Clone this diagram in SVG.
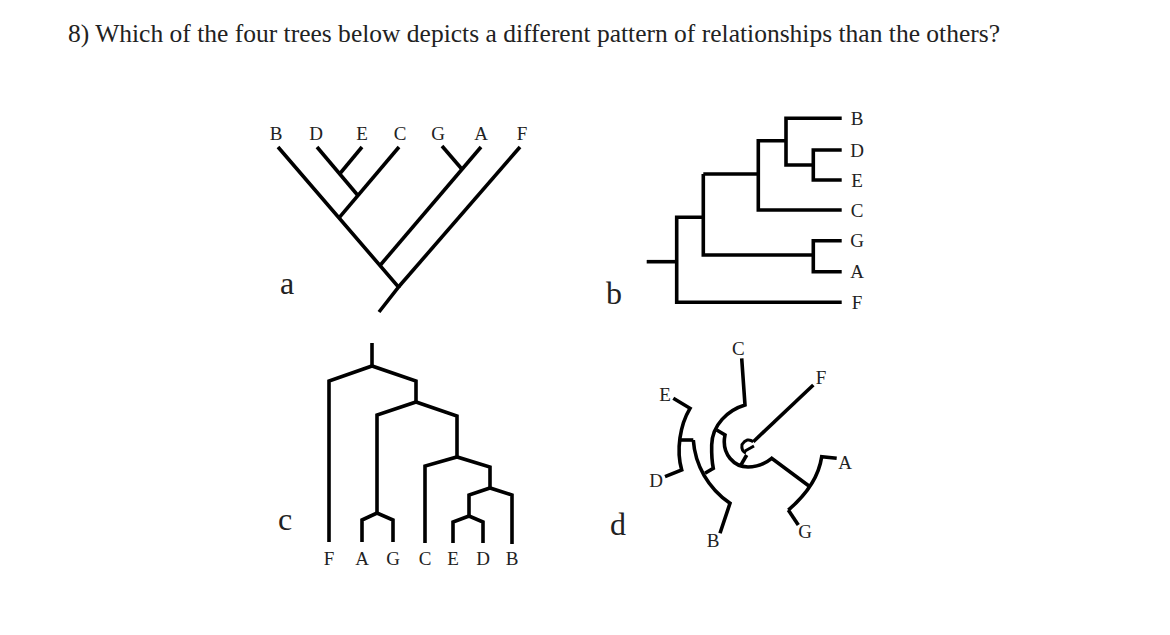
<svg xmlns="http://www.w3.org/2000/svg" width="1170" height="635" viewBox="0 0 1170 635">
<style>
.t{font-family:"Liberation Serif","Times New Roman",serif;fill:#222}
.lab{font-size:19px;text-anchor:middle}
.big{font-size:32px;text-anchor:middle}
.br{fill:none;stroke:#000;stroke-width:3.6;stroke-linejoin:miter}
</style>
<rect width="1170" height="635" fill="#fff"/>
<text class="t" x="68" y="42" font-size="25.5" textLength="932" lengthAdjust="spacingAndGlyphs">8) Which of the four trees below depicts a different pattern of relationships than the others?</text>

<g id="tree-a">
<g class="br">
<path d="M278,147 L398.5,287 L379,312"/>
<path d="M520,147 L398.5,287"/>
<path d="M481,147 L380,265.5"/>
<path d="M442,146 L462,169.2"/>
<path d="M399,147 L339,217.9"/>
<path d="M317,147 L357.5,195"/>
<path d="M362,147 L340,173.5"/>
</g>
<text class="t lab" x="276" y="140">B</text>
<text class="t lab" x="316" y="140">D</text>
<text class="t lab" x="362" y="140">E</text>
<text class="t lab" x="400" y="140">C</text>
<text class="t lab" x="438" y="140">G</text>
<text class="t lab" x="481" y="140">A</text>
<text class="t lab" x="522" y="140">F</text>
<text class="t big" x="287" y="294">a</text>
</g>

<g id="tree-b">
<g class="br" stroke-width="4">
<path d="M646.7,261.7 H676.7"/>
<path d="M841.7,302.3 H676.7 V217.3 H703.3"/>
<path d="M703.3,174 V255 H813.3"/>
<path d="M841.7,240.7 H813.3 V271.7 H841.7"/>
<path d="M703.3,174 H758.3"/>
<path d="M786,140.7 H758.3 V210 H841.7"/>
<path d="M841.7,118.3 H786 V165 H813.3"/>
<path d="M841.7,150 H813.3 V180 H841.7"/>
</g>
<text class="t lab" x="857" y="125">B</text>
<text class="t lab" x="857" y="157">D</text>
<text class="t lab" x="857" y="187">E</text>
<text class="t lab" x="857" y="217">C</text>
<text class="t lab" x="857" y="247">G</text>
<text class="t lab" x="857" y="278">A</text>
<text class="t lab" x="857" y="309">F</text>
<text class="t big" x="614" y="304">b</text>
</g>

<g id="tree-c">
<g class="br" stroke-width="4">
<path d="M372,343 V366"/>
<path d="M416,402 V381 L372,366 L329,381 V542"/>
<path d="M457,457 V416 L416,402 L377,415 V513"/>
<path d="M362,542 V520 L377,513 L393,520 V542"/>
<path d="M490,488 V467 L457,457 L425,466 V543"/>
<path d="M469,516 V495 L490,488 L512,495 V544"/>
<path d="M453,543 V522 L469,516 L483,522 V543"/>
</g>
<text class="t lab" x="329" y="565" font-size="21">F</text>
<text class="t lab" x="362" y="565" font-size="21">A</text>
<text class="t lab" x="393" y="565" font-size="21">G</text>
<text class="t lab" x="425" y="565" font-size="21">C</text>
<text class="t lab" x="453" y="565" font-size="21">E</text>
<text class="t lab" x="483" y="565" font-size="21">D</text>
<text class="t lab" x="512" y="565" font-size="21">B</text>
<text class="t big" x="285" y="530">c</text>
</g>

<g id="tree-d">
<g class="br" stroke-width="3.5">
<path d="M741.7,358.3 L745,405 C728,410 712,425 711.7,445 C711.5,455 712,462 713.3,468.3 L705,473.3"/>
<path d="M693.3,440 C695,465 708,488 730,503.3 L720,533.3"/>
<path d="M679.3,440 H693.3"/>
<path d="M673.3,398.3 L690,408.3 C680,425 676,450 681.7,470 L665,476.7"/>
<path d="M716.7,430 L725,435 C721,455 735,467 748,467 C758,467 766,463 771.7,458.3 L810,486.7"/>
<path d="M788.3,510 C800,500 818,482 821.7,456.7 L836.7,458.3"/>
<path d="M788.3,510 L798.3,525"/>
<path d="M813.3,385 L753.3,441.7"/>
<path d="M753.3,441.7 Q747,437 742,444.5 Q741,451 746,453" stroke-width="3"/>
<path d="M745,451 L754,446" stroke-width="3"/>
<path d="M746.7,455 L740,466.7"/>
</g>
<text class="t lab" x="738.3" y="355" font-size="18">C</text>
<text class="t lab" x="665" y="401" font-size="18">E</text>
<text class="t lab" x="656" y="487" font-size="18">D</text>
<text class="t lab" x="713" y="547" font-size="18">B</text>
<text class="t lab" x="805" y="538" font-size="18">G</text>
<text class="t lab" x="845" y="469" font-size="18">A</text>
<text class="t lab" x="821" y="384" font-size="18">F</text>
<text class="t big" x="618" y="535">d</text>
</g>
</svg>
